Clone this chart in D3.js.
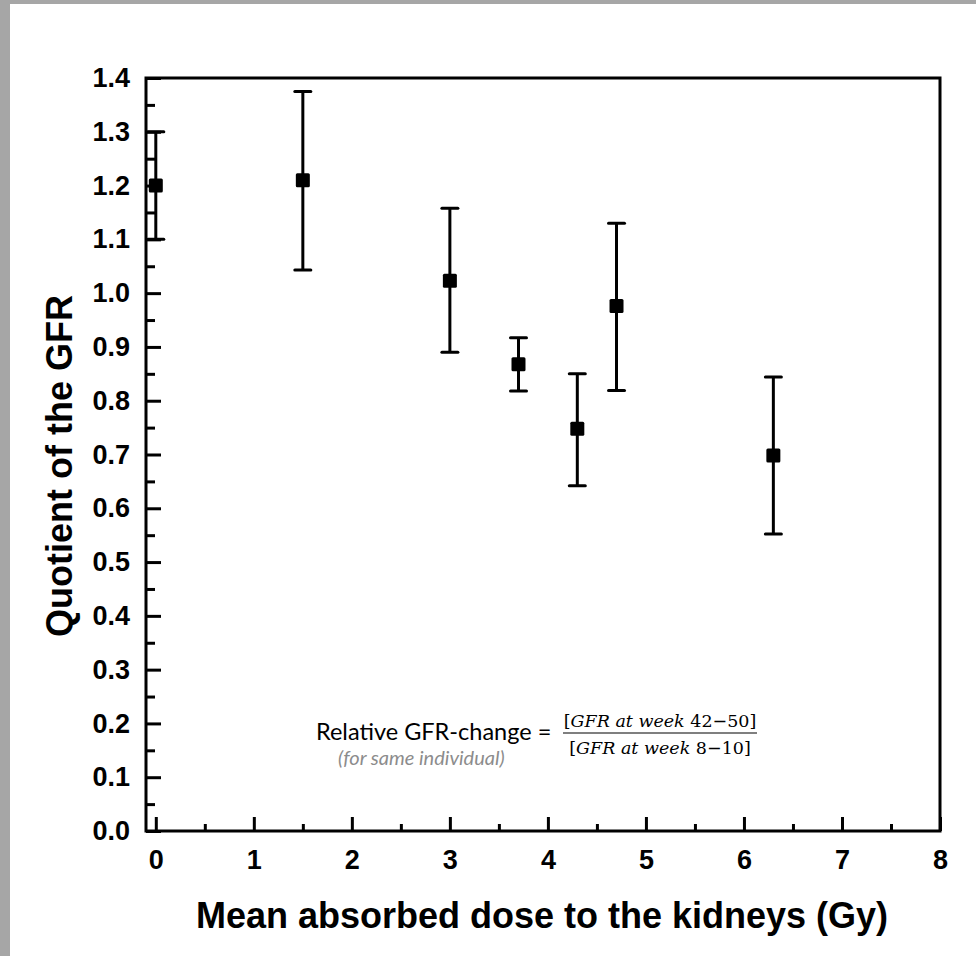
<!DOCTYPE html>
<html>
<head>
<meta charset="utf-8">
<script src="https://cdn.jsdelivr.net/npm/d3@7"></script>
<style>
  html, body { margin: 0; padding: 0; background: #fff; }
  svg { display: block; }
</style>
</head>
<body>
<svg id="chart" width="976" height="956"></svg>
<script>
// ---- data ----
const doses   = [0, 1.5, 3.0, 3.7, 4.3, 4.7, 6.3];
const quotient = [1.2, 1.21, 1.023, 0.868, 0.748, 0.976, 0.698];
const upper   = [1.3, 1.375, 1.158, 0.917, 0.850, 1.130, 0.844];
const lower   = [1.1, 1.043, 0.890, 0.818, 0.642, 0.819, 0.552];
const xTicks = [0, 1, 2, 3, 4, 5, 6, 7, 8];
const yTicks = [0.0, 0.1, 0.2, 0.3, 0.4, 0.5, 0.6, 0.7, 0.8, 0.9, 1.0, 1.1, 1.2, 1.3, 1.4];
const xTitle = "Mean absorbed dose to the kidneys (Gy)";
const yTitle = "Quotient of the GFR";

const svg = d3.select("#chart");

// gray frame
svg.append("rect").attr("x", 0).attr("y", 0).attr("width", 976).attr("height", 956).attr("fill", "#a6a6a6");
svg.append("rect").attr("x", 10).attr("y", 4).attr("width", 966).attr("height", 952).attr("fill", "#ffffff");

const L = 146, R = 940, T = 78, B = 831;
const x = d3.scaleLinear().domain([-0.1, 8]).range([L, R]);
const y = d3.scaleLinear().domain([0, 1.4]).range([B, T]);

const axisFont = "'Liberation Sans', Arial, sans-serif";

// x axis
const xMinor = d3.range(0.5, 8, 1);
const gxMinor = svg.append("g").attr("transform", `translate(0,${B})`)
  .call(d3.axisBottom(x).tickValues(xMinor).tickSize(-7).tickFormat(""));
const gx = svg.append("g").attr("transform", `translate(0,${B})`)
  .call(d3.axisBottom(x).tickValues(xTicks).tickSize(-14).tickPadding(19).tickFormat(d3.format("d")));

// y axis
const yMinor = d3.range(0.05, 1.4, 0.1);
const gyMinor = svg.append("g").attr("transform", `translate(${L},0)`)
  .call(d3.axisLeft(y).tickValues(yMinor).tickSize(-9).tickFormat(""));
const gy = svg.append("g").attr("transform", `translate(${L},0)`)
  .call(d3.axisLeft(y).tickValues(yTicks).tickSize(-15).tickPadding(16).tickFormat(d3.format(".1f")));

[gx, gy, gxMinor, gyMinor].forEach(g => {
  g.select(".domain").remove();
  g.selectAll(".tick line").attr("stroke", "#000").attr("stroke-width", 3);
  g.selectAll(".tick text").attr("fill", "#000")
    .style("font-family", axisFont).style("font-weight", "bold").style("font-size", "27px");
});

// frame
svg.append("rect").attr("x", L).attr("y", T).attr("width", R - L).attr("height", B - T)
  .attr("fill", "none").attr("stroke", "#000").attr("stroke-width", 3);

// error bars
const cap = 8;
const eg = svg.append("g");
doses.forEach((d, i) => {
  const cx = x(d);
  eg.append("line").attr("x1", cx).attr("x2", cx).attr("y1", y(upper[i])).attr("y2", y(lower[i]))
    .attr("stroke", "#000").attr("stroke-width", 3);
  [upper[i], lower[i]].forEach(v => {
    eg.append("line").attr("x1", cx - cap).attr("x2", cx + cap).attr("y1", y(v)).attr("y2", y(v))
      .attr("stroke", "#000").attr("stroke-width", 3).attr("stroke-linecap", "round");
  });
});
// markers
const ms = 14;
svg.append("g").selectAll("rect").data(doses).join("rect")
  .attr("x", (d) => x(d) - ms / 2)
  .attr("y", (d, i) => y(quotient[i]) - ms / 2)
  .attr("width", ms).attr("height", ms).attr("rx", 1.5)
  .attr("fill", "#000");

// titles
svg.append("text").attr("x", (L + R) / 2 - 1).attr("y", 928).attr("text-anchor", "middle")
  .style("font-family", axisFont).style("font-weight", "bold").style("font-size", "36px")
  .attr("fill", "#000").text(xTitle);
svg.append("text").attr("transform", `translate(72,466) rotate(-90)`).attr("text-anchor", "middle")
  .style("font-family", axisFont).style("font-weight", "bold").style("font-size", "36px")
  .attr("fill", "#000").text(yTitle);

// annotation
const ann = svg.append("g");
ann.append("text").attr("x", 316).attr("y", 740)
  .style("font-family", "Lato, 'Open Sans', sans-serif").style("font-size", "23.5px").attr("fill", "#000")
  .text("Relative GFR-change =");
ann.append("text").attr("x", 338).attr("y", 765)
  .style("font-family", "Lato, 'Open Sans', sans-serif").style("font-size", "20px").style("font-style", "italic")
  .attr("fill", "#8c8c8c").text("(for same individual)");

const serif = "'DejaVu Serif', 'Liberation Serif', serif";
function fracText(yy, cx, week) {
  const t = ann.append("text").attr("x", cx).attr("y", yy).attr("text-anchor", "middle")
    .style("font-family", serif).style("font-size", "17.5px").attr("fill", "#000");
  t.append("tspan").text("[");
  t.append("tspan").style("font-style", "italic").text("GFR at week ");
  t.append("tspan").text(week + "]");
  return t;
}
fracText(727, 660, "42\u221250");
ann.append("line").attr("x1", 563).attr("x2", 757).attr("y1", 733).attr("y2", 733)
  .attr("stroke", "#000").attr("stroke-width", 1.2);
fracText(754, 660, "8\u221210");
</script>
</body>
</html>
